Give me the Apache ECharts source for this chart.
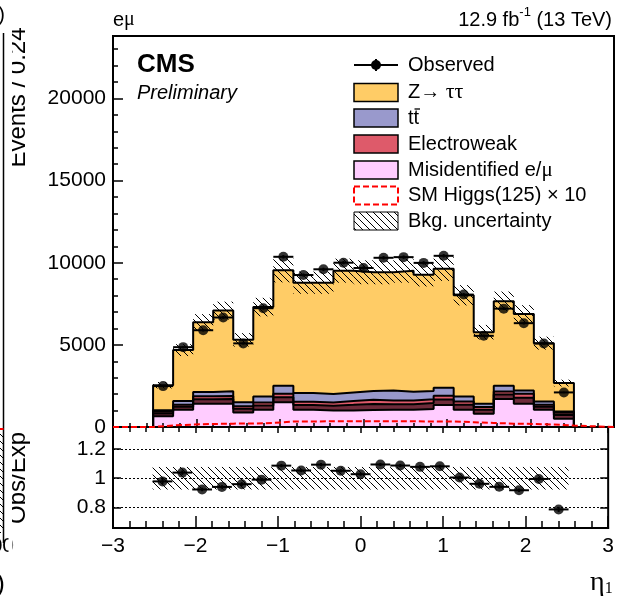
<!DOCTYPE html>
<html>
<head>
<meta charset="utf-8">
<script src="https://cdn.jsdelivr.net/npm/echarts@6/dist/echarts.min.js"></script>
<style>
  html, body { margin: 0; padding: 0; background: #fff; }
  #chart { width: 617px; height: 601px; }
</style>
</head>
<body>
<div id="chart"></div>
<script>
// Leading-lepton pseudorapidity, e-mu channel: bin centres (bin width 0.24)
const etaCenters = [-2.40, -2.16, -1.92, -1.68, -1.44, -1.20, -0.96, -0.72, -0.48, -0.24, 0.00,
                    0.24, 0.48, 0.72, 0.96, 1.20, 1.44, 1.68, 1.92, 2.16, 2.40];
const binHalfWidth = 0.12;

// Event counts per bin
const observed    = [2490, 4860, 5890, 6665, 5090, 7230, 10360, 9250, 9600, 10000, 9680,
                     10300, 10340, 9990, 10420, 8060, 5550, 7205, 6320, 5080, 2105];
const zTauTau     = [1530, 3100, 4245, 4915, 3805, 5440, 7030, 6720, 6780, 7415, 7230,
                     7195, 7370, 7085, 7245, 6160, 4355, 5145, 4660, 3550, 1730];
const ttbar       = [90, 230, 270, 285, 235, 365, 485, 530, 510, 520, 530,
                     600, 525, 490, 485, 305, 200, 345, 200, 205, 70];
const electroweak = [110, 120, 180, 185, 150, 180, 210, 195, 195, 230, 255,
                     230, 230, 240, 225, 205, 160, 185, 240, 120, 150];
const otherBkg    = [165, 180, 265, 280, 225, 265, 315, 290, 290, 340, 375,
                     340, 340, 365, 340, 300, 245, 280, 365, 180, 225];
const misidEMu    = [650, 1050, 1420, 1420, 890, 1050, 1500, 1050, 1010, 1010, 1030,
                     1050, 1050, 1090, 1340, 1050, 810, 1700, 1420, 1050, 500];
const higgsX10    = [95, 150, 185, 205, 215, 245, 335, 340, 345, 350, 350,
                     350, 345, 340, 335, 290, 245, 205, 185, 150, 85];
const bkgRelUnc = 0.077;

const xTickValues = [-3, -2, -1, 0, 1, 2, 3];
const ratioTickValues = [0.8, 1.0, 1.2];

const SANS = "'Liberation Sans', Arial, Helvetica, sans-serif";
const SERIF = "'Liberation Serif', 'DejaVu Serif', serif";

// cumulative stack, bottom to top
const sumArr = (a, b) => a.map((v, i) => v + b[i]);
const cumMisid = misidEMu.slice();
const cumOther = sumArr(cumMisid, otherBkg);
const cumEW = sumArr(cumOther, electroweak);
const cumTT = sumArr(cumEW, ttbar);
const cumTotal = sumArr(cumTT, zTauTau);

const lowEdge = etaCenters[0] - binHalfWidth;
const highEdge = etaCenters[etaCenters.length - 1] + binHalfWidth;

// histogram outline as step points (value held until the next edge)
function stepPoints(vals, fullRange) {
  const pts = [];
  if (fullRange) pts.push([-3, 0]);
  pts.push([lowEdge, 0]);
  vals.forEach((v, i) => pts.push([etaCenters[i] - binHalfWidth, v]));
  pts.push([highEdge, vals[vals.length - 1]]);
  pts.push([highEdge, 0]);
  if (fullRange) pts.push([3, 0]);
  return pts;
}

// diagonal hatch fill
function makeHatch(size, lw) {
  const c = document.createElement('canvas');
  c.width = size; c.height = size;
  const g = c.getContext('2d');
  g.strokeStyle = '#000';
  g.lineWidth = lw;
  g.beginPath();
  g.moveTo(-1, -1); g.lineTo(size + 1, size + 1);
  g.moveTo(size - 1, -1); g.lineTo(size + 1, 1);
  g.moveTo(-1, size - 1); g.lineTo(1, size + 1);
  g.stroke();
  return c;
}
const hatchCanvas = makeHatch(7, 1);
const hatchFill = { image: hatchCanvas, repeat: 'repeat' };

function stackLayer(name, vals, color) {
  return {
    name, type: 'line', xAxisIndex: 0, yAxisIndex: 0,
    data: stepPoints(vals, false), step: 'end', symbol: 'none',
    lineStyle: { color: '#000', width: 2 },
    areaStyle: { color, opacity: 1 },
    silent: true, z: 2
  };
}

function bandSeries(xi, yi, centerVals) {
  return {
    type: 'custom', xAxisIndex: xi, yAxisIndex: yi, silent: true, z: 3,
    data: etaCenters.map((x, i) => [x, centerVals[i]]),
    renderItem: (params, api) => {
      const x = api.value(0), c = api.value(1);
      const p1 = api.coord([x - binHalfWidth, c * (1 + bkgRelUnc)]);
      const p2 = api.coord([x + binHalfWidth, c * (1 - bkgRelUnc)]);
      return {
        type: 'rect',
        shape: { x: p1[0], y: p1[1], width: p2[0] - p1[0], height: p2[1] - p1[1] },
        style: { fill: hatchFill, stroke: null }
      };
    }
  };
}

function errorBarSeries(xi, yi, vals, errs) {
  return {
    type: 'custom', xAxisIndex: xi, yAxisIndex: yi, silent: true, z: 4,
    data: etaCenters.map((x, i) => [x, vals[i], errs[i]]),
    renderItem: (params, api) => {
      const x = api.value(0), y = api.value(1), e = api.value(2);
      const l = api.coord([x - binHalfWidth, y]), r = api.coord([x + binHalfWidth, y]);
      const t = api.coord([x, y + e]), b = api.coord([x, y - e]);
      return {
        type: 'group',
        children: [
          { type: 'line', shape: { x1: l[0], y1: l[1], x2: r[0], y2: r[1] }, style: { stroke: '#000', lineWidth: 2 } },
          { type: 'line', shape: { x1: t[0], y1: t[1], x2: b[0], y2: b[1] }, style: { stroke: '#000', lineWidth: 2 } }
        ]
      };
    }
  };
}

const ratio = observed.map((v, i) => v / cumTotal[i]);
const ratioErr = observed.map((v, i) => Math.sqrt(v) / cumTotal[i]);
const obsErr = observed.map(v => Math.sqrt(v));
const ones = etaCenters.map(() => 1);

const tickStyle = { color: '#000', width: 1.5 };
const noZeroLine = (extra) => Object.assign({ onZero: false }, extra);

const option = {
  animation: false,
  backgroundColor: '#fff',
  grid: [
    { left: 113, top: 36, width: 501, height: 391, show: true, borderColor: '#000', borderWidth: 2, z: 6 },
    { left: 113, top: 427, width: 501, height: 101, show: true, borderColor: '#000', borderWidth: 2, z: 6 }
  ],
  xAxis: [
    { gridIndex: 0, type: 'value', min: -3, max: 3, interval: 1, z: 6,
      axisLine: noZeroLine({ show: true, lineStyle: { color: '#000', width: 2 } }),
      axisTick: { inside: true, length: 8, lineStyle: tickStyle },
      minorTick: { show: true, splitNumber: 5, length: 4, lineStyle: tickStyle },
      axisLabel: { show: false }, splitLine: { show: false } },
    { gridIndex: 1, type: 'value', min: -3, max: 3, interval: 1, z: 6,
      axisLine: noZeroLine({ show: true, lineStyle: { color: '#000', width: 2 } }),
      axisTick: { inside: true, length: 12, lineStyle: tickStyle },
      minorTick: { show: true, splitNumber: 5, length: 7, lineStyle: tickStyle },
      axisLabel: { show: true, fontSize: 21, fontFamily: SANS, color: '#000', margin: 8,
                   customValues: xTickValues,
                   formatter: v => (v < 0 ? '\u2212' + Math.abs(v) : String(v)) },
      splitLine: { show: false } },
    { gridIndex: 1, type: 'value', min: -3, max: 3, interval: 1, position: 'top', z: 6,
      axisLine: noZeroLine({ show: false }),
      axisTick: { inside: true, length: 6, lineStyle: tickStyle },
      minorTick: { show: true, splitNumber: 5, length: 5, lineStyle: tickStyle },
      axisLabel: { show: false }, splitLine: { show: false } }
  ],
  yAxis: [
    { gridIndex: 0, type: 'value', min: 0, max: 23800, interval: 5000, position: 'left', z: 6,
      axisLine: noZeroLine({ show: true, lineStyle: { color: '#000', width: 2 } }),
      axisTick: { inside: true, length: 10, lineStyle: tickStyle },
      axisLabel: { fontSize: 21, fontFamily: SANS, color: '#000', margin: 7,
                   showMaxLabel: false, formatter: v => String(v) },
      splitLine: { show: false } },
    { gridIndex: 0, type: 'value', min: 0, max: 23800, interval: 1000, position: 'left', z: 6,
      axisLine: noZeroLine({ show: false }),
      axisTick: { inside: true, length: 5, lineStyle: tickStyle },
      axisLabel: { show: false }, splitLine: { show: false } },
    { gridIndex: 1, type: 'value', min: 0.66, max: 1.35, position: 'left', z: 6,
      axisLine: noZeroLine({ show: true, lineStyle: { color: '#000', width: 2 } }),
      axisTick: { inside: true, length: 8, lineStyle: tickStyle, customValues: ratioTickValues },
      axisLabel: { fontSize: 21, fontFamily: SANS, color: '#000', margin: 7, customValues: ratioTickValues },
      splitLine: { show: false } },
    { gridIndex: 1, type: 'value', min: 0.66, max: 1.35, position: 'right', z: 6,
      axisLine: noZeroLine({ show: false }),
      axisTick: { inside: true, length: 8, lineStyle: tickStyle, customValues: ratioTickValues },
      axisLabel: { show: false }, splitLine: { show: false } }
  ],
  series: [
    stackLayer('Z\u2192\u03c4\u03c4', cumTotal, '#ffcc66'),
    stackLayer('tt', cumTT, '#9999cc'),
    stackLayer('Electroweak', cumEW, '#de5a6a'),
    stackLayer('other', cumOther, '#6e2b3a'),
    stackLayer('Misidentified e/\u03bc', cumMisid, '#ffccff'),
    {
      name: 'SM Higgs(125) \u00d7 10', type: 'line', xAxisIndex: 0, yAxisIndex: 0,
      data: stepPoints(higgsX10, true), step: 'end', symbol: 'none', silent: true, z: 7, clip: false,
      lineStyle: { color: '#ff0000', width: 2, type: [6, 3] }
    },
    bandSeries(0, 0, cumTotal),
    errorBarSeries(0, 0, observed, obsErr),
    { name: 'Observed', type: 'scatter', xAxisIndex: 0, yAxisIndex: 0, z: 5, silent: true,
      data: etaCenters.map((x, i) => [x, observed[i]]),
      symbol: 'circle', symbolSize: 10, itemStyle: { color: '#000' } },
    // ratio panel
    bandSeries(1, 2, ones),
    errorBarSeries(1, 2, ratio, ratioErr),
    { type: 'scatter', xAxisIndex: 1, yAxisIndex: 2, z: 5, silent: true,
      data: etaCenters.map((x, i) => [x, ratio[i]]),
      symbol: 'circle', symbolSize: 10, itemStyle: { color: '#000' },
      markLine: { silent: true, symbol: 'none', label: { show: false },
                  lineStyle: { color: '#000', width: 1, type: [2, 2] },
                  data: ratioTickValues.map(v => ({ yAxis: v })) } }
  ],
  graphic: []
};

// legend and annotations
const legendX = 354, boxW = 44, boxH = 18, textX = 408;
const rowsY = [65, 92.5, 118, 144, 170, 195.5, 221];
const g = option.graphic;
function txt(x, y, text, extra, z) {
  g.push({ type: 'text', x, y, z: z || 20, silent: true,
           style: Object.assign({ text, font: '20px ' + SANS, fill: '#000',
                                  textAlign: 'left', textVerticalAlign: 'middle' }, extra || {}) });
}
function box(y, style) {
  g.push({ type: 'rect', z: 20, silent: true,
           shape: { x: legendX, y: y - boxH / 2, width: boxW, height: boxH },
           style: Object.assign({ stroke: '#000', lineWidth: 1.5 }, style) });
}
// Observed
g.push({ type: 'line', z: 20, silent: true, shape: { x1: legendX, y1: rowsY[0], x2: legendX + boxW, y2: rowsY[0] }, style: { stroke: '#000', lineWidth: 2 } });
g.push({ type: 'line', z: 20, silent: true, shape: { x1: legendX + boxW / 2, y1: rowsY[0] - 6, x2: legendX + boxW / 2, y2: rowsY[0] + 6 }, style: { stroke: '#000', lineWidth: 2 } });
g.push({ type: 'circle', z: 21, silent: true, shape: { cx: legendX + boxW / 2, cy: rowsY[0], r: 5 }, style: { fill: '#000' } });
txt(textX, rowsY[0], 'Observed');
box(rowsY[1], { fill: '#ffcc66' });
g.push({ type: 'text', x: textX, y: rowsY[1], z: 20, silent: true,
         style: { text: '{s|Z\u2192 }{g|\u03c4\u03c4}', textVerticalAlign: 'middle', textAlign: 'left',
                  rich: { s: { fontFamily: SANS, fontSize: 20, fill: '#000' },
                          g: { fontFamily: SERIF, fontSize: 22, fill: '#000' } } } });
box(rowsY[2], { fill: '#9999cc' });
txt(textX, rowsY[2], 'tt');
g.push({ type: 'line', z: 20, silent: true, shape: { x1: textX + 6.5, y1: rowsY[2] - 9, x2: textX + 12, y2: rowsY[2] - 9 }, style: { stroke: '#000', lineWidth: 1.3 } });
box(rowsY[3], { fill: '#de5a6a' });
txt(textX, rowsY[3], 'Electroweak');
box(rowsY[4], { fill: '#ffccff' });
g.push({ type: 'text', x: textX, y: rowsY[4], z: 20, silent: true,
         style: { text: '{s|Misidentified e/}{g|\u03bc}', textVerticalAlign: 'middle', textAlign: 'left',
                  rich: { s: { fontFamily: SANS, fontSize: 20, fill: '#000' },
                          g: { fontFamily: SERIF, fontSize: 21, fill: '#000' } } } });
box(rowsY[5], { fill: 'none', stroke: '#ff0000', lineWidth: 2, lineDash: [6, 3] });
txt(textX, rowsY[5], 'SM Higgs(125) \u00d7 10');
box(rowsY[6], { fill: hatchFill, lineWidth: 1 });
txt(textX, rowsY[6], 'Bkg. uncertainty');

// CMS label
txt(137, 65, 'CMS', { font: 'bold 26px ' + SANS });
txt(137, 93, 'Preliminary', { font: 'italic 20px ' + SANS });

// top annotations
g.push({ type: 'text', x: 113, y: 20, z: 20, silent: true,
         style: { text: '{s|e}{g|\u03bc}', textVerticalAlign: 'middle', textAlign: 'left',
                  rich: { s: { fontFamily: SANS, fontSize: 20, fill: '#000' },
                          g: { fontFamily: SERIF, fontSize: 20, fill: '#000' } } } });
g.push({ type: 'text', x: 612, y: 18, z: 20, silent: true,
         style: { text: '{n|12.9 fb}{s|-1}{n| (13 TeV)}', textVerticalAlign: 'middle', textAlign: 'right',
                  rich: { n: { fontFamily: SANS, fontSize: 20, lineHeight: 24, fill: '#000', verticalAlign: 'bottom' },
                          s: { fontFamily: SANS, fontSize: 13, lineHeight: 13, fill: '#000', verticalAlign: 'top' } } } });
// x-axis title
g.push({ type: 'text', x: 590, y: 583, z: 20, silent: true,
         style: { text: '{g|\u03b7}{s|1}', textVerticalAlign: 'middle', textAlign: 'left',
                  rich: { g: { fontFamily: SERIF, fontSize: 28, fill: '#000' },
                          s: { fontFamily: SERIF, fontSize: 16, fill: '#000', verticalAlign: 'bottom' } } } });

// y-axis titles (rotated, cut at the pad's left edge)
g.push({ type: 'text', x: 30.5, y: 97.5, rotation: Math.PI / 2, z: 20, silent: true,
         style: { text: 'Events / 0.24', font: '24px ' + SANS, fill: '#000',
                  textAlign: 'center', textVerticalAlign: 'bottom' } });
g.push({ type: 'text', x: 30.5, y: 478, rotation: Math.PI / 2, z: 20, silent: true,
         style: { text: 'Obs/Exp', font: '24px ' + SANS, fill: '#000',
                  textAlign: 'center', textVerticalAlign: 'bottom' } });
// pad edge: the neighbouring pad covers the strip left of it
g.push({ type: 'rect', z: 21, silent: true, shape: { x: 0, y: 0, width: 12, height: 601 }, style: { fill: '#fff' } });
// right edge of the neighbouring pad
g.push({ type: 'rect', z: 22, silent: true, shape: { x: 0, y: 430, width: 3.5, height: 103 }, style: { fill: hatchFill } });
g.push({ type: 'line', z: 23, silent: true, shape: { x1: 3.5, y1: 33, x2: 3.5, y2: 543 }, style: { stroke: '#000', lineWidth: 1.5 } });
g.push({ type: 'line', z: 23, silent: true, shape: { x1: 0, y1: 429, x2: 3.5, y2: 429 }, style: { stroke: '#ff0000', lineWidth: 2 } });
txt(5, 15, ')', { font: '20px ' + SANS, textAlign: 'right' }, 22);
txt(14, 546, '00', { font: '21px ' + SANS, textAlign: 'right' }, 22);
g.push({ type: 'rect', z: 23, silent: true, shape: { x: 8.5, y: 533, width: 4, height: 26 }, style: { fill: '#fff' } });
txt(5, 585, ')', { font: '26px ' + SANS, textAlign: 'right' }, 22);

const chart = echarts.init(document.getElementById('chart'), null, { renderer: 'canvas' });
chart.setOption(option);
</script>
</body>
</html>
